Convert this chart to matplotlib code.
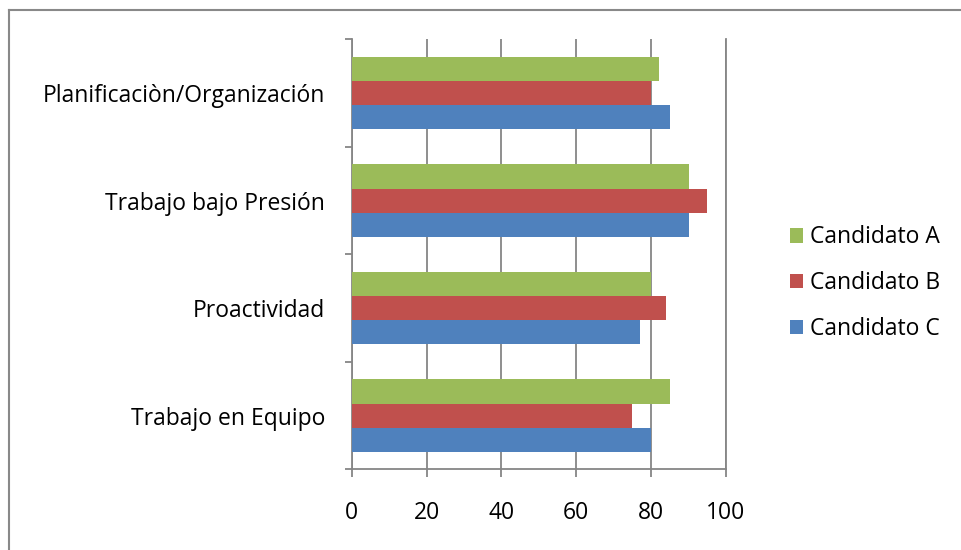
import matplotlib.pyplot as plt
import numpy as np

# Datos
categorias = ['Trabajo en Equipo', 'Proactividad', 'Trabajo bajo Presión', 'Planificaciòn/Organización']
candidato_a = [85, 80, 90, 82]
candidato_b = [75, 84, 95, 80]
candidato_c = [80, 77, 90, 85]
series = ['Candidato A', 'Candidato B', 'Candidato C']
colores = ['#9BBB59', '#C0504D', '#4F81BD']
ticks_x = [0, 20, 40, 60, 80, 100]

plt.rcParams['font.family'] = ['Open Sans', 'DejaVu Sans']
gris = '#868686'

fig = plt.figure(figsize=(9.61, 5.5), dpi=100)
ax = fig.add_axes([0.366, 0.1467, 0.3895, 0.7818])

# borde exterior (solo arriba e izquierda visibles)
fig.add_artist(plt.Line2D([9 / 961, 9 / 961], [0, 1 - 10 / 550], color='#898989', lw=1.5, transform=fig.transFigure))
fig.add_artist(plt.Line2D([9 / 961, 1], [1 - 10 / 550, 1 - 10 / 550], color='#898989', lw=1.5, transform=fig.transFigure))

y = np.arange(len(categorias))
alto = 0.224
for valores, nombre, color, off in zip([candidato_a, candidato_b, candidato_c], series, colores, [alto, 0, -alto]):
    ax.barh(y + off, valores, height=alto, color=color, label=nombre, zorder=3)

ax.set_xlim(0, 100)
ax.set_ylim(-0.5, len(categorias) - 0.5)
ax.set_xticks(ticks_x)
ax.set_xticklabels([str(t) for t in ticks_x], fontsize=16.5)
ax.set_yticks(y)
ax.set_yticklabels(categorias, fontsize=16.5)
ax.set_yticks(np.arange(-0.5, len(categorias)), minor=True)

ax.grid(axis='x', color=gris, lw=1.3, zorder=0)
ax.axvline(100, color=gris, lw=1.3, zorder=0, clip_on=False)
for lado in ['top', 'right']:
    ax.spines[lado].set_visible(False)
for lado in ['left', 'bottom']:
    ax.spines[lado].set_color(gris)
    ax.spines[lado].set_linewidth(1.3)

ax.tick_params(axis='y', which='major', length=0, pad=19)
ax.tick_params(axis='y', which='minor', length=5, color=gris, width=1.3)
ax.tick_params(axis='x', length=6, color=gris, width=1.3, pad=17)

ax.legend(loc='center left', bbox_to_anchor=(1.115, 0.433), frameon=False, fontsize=16.5,
          handlelength=0.6, handleheight=0.6, handletextpad=0.3, labelspacing=0.95)

fig.savefig('out.png', dpi=100)
